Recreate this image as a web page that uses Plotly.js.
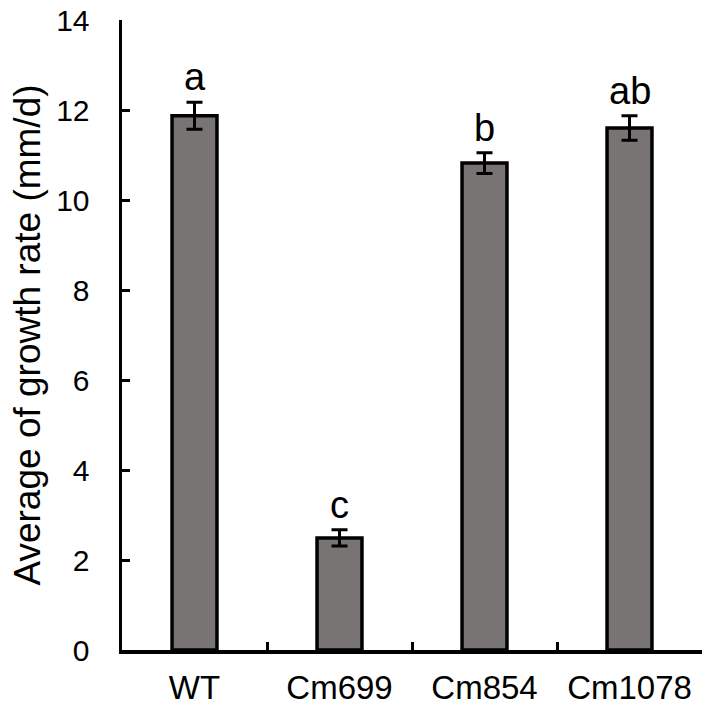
<!DOCTYPE html>
<html>
<head>
<meta charset="utf-8">
<script src="https://cdn.plot.ly/plotly-3.0.1.min.js"></script>
<style>
  html, body { margin: 0; padding: 0; background: #fff; }
  #chart { width: 709px; height: 710px; }
</style>
</head>
<body>
<div id="chart"></div>
<script>
// values
const strains = ['WT', 'Cm699', 'Cm854', 'Cm1078'];
const growthRate = [11.87, 2.49, 10.82, 11.6];
const growthErr = [0.3, 0.18, 0.23, 0.27];
const sigLetters = ['a', 'c', 'b', 'ab'];
const yTicks = [0, 2, 4, 6, 8, 10, 12, 14];

const FONT = 'Liberation Sans, Arial, sans-serif';

const trace = {
    type: 'bar',
    x: strains,
    y: growthRate,
    width: 0.31,
    marker: {color: '#787473', line: {color: '#000', width: 3.5}},
    error_y: {type: 'data', array: growthErr, visible: true, color: '#000', thickness: 3, width: 8},
    hoverinfo: 'none'
};

const notes = strains.map((s, i) => ({
    x: s,
    y: growthRate[i] + growthErr[i],
    yanchor: 'bottom',
    yshift: 2,
    text: sigLetters[i],
    showarrow: false,
    font: {family: FONT, size: 38, color: '#000'}
}));

const layout = {
    width: 709,
    height: 710,
    margin: {l: 122, r: 7, t: 20, b: 60},
    paper_bgcolor: '#fff',
    plot_bgcolor: '#fff',
    showlegend: false,
    font: {family: FONT, color: '#000'},
    xaxis: {
        type: 'category',
        tickson: 'boundaries',
        ticks: 'inside',
        ticklen: 8,
        tickwidth: 3,
        tickcolor: '#000',
        showline: true,
        linecolor: '#000',
        linewidth: 3.5,
        showgrid: false,
        zeroline: false,
        ticklabelstandoff: 6,
        tickfont: {family: FONT, size: 33, color: '#000'}
    },
    yaxis: {
        range: [0, 14],
        tickvals: yTicks,
        ticktext: yTicks.map(String),
        ticks: 'inside',
        ticklen: 8,
        tickwidth: 3,
        tickcolor: '#000',
        showline: true,
        linecolor: '#000',
        linewidth: 3.5,
        showgrid: false,
        zeroline: false,
        ticklabelstandoff: 23,
        tickfont: {family: FONT, size: 30, color: '#000'},
        title: {text: 'Average of growth rate (mm/d)', font: {family: FONT, size: 37, color: '#000'}, standoff: 5}
    },
    annotations: notes
};

Plotly.newPlot('chart', [trace], layout, {staticPlot: true});
</script>
</body>
</html>
